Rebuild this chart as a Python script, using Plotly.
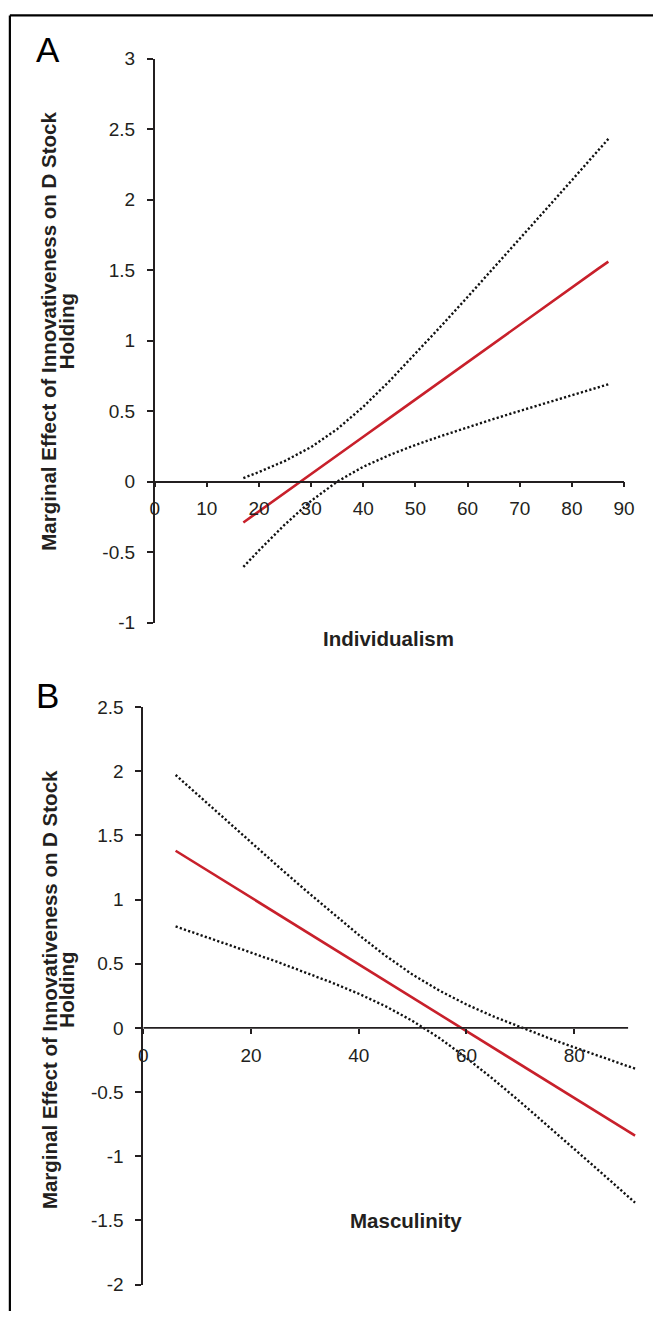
import plotly.graph_objects as go

W, H = 664, 1322

# ---------------- Data ----------------
# Panel A: Individualism
a_x = [17, 20, 25, 30, 35, 40, 45, 50, 55, 60, 65, 70, 75, 80, 85, 87]
a_effect = [-0.290, -0.210, -0.078, 0.054, 0.186, 0.318, 0.450, 0.583, 0.715, 0.847, 0.979, 1.111, 1.243, 1.375, 1.508, 1.560]
a_upper = [0.025, 0.068, 0.147, 0.245, 0.372, 0.531, 0.712, 0.906, 1.106, 1.309, 1.514, 1.721, 1.929, 2.137, 2.347, 2.430]
a_lower = [-0.605, -0.488, -0.303, -0.137, 0.000, 0.105, 0.188, 0.260, 0.324, 0.385, 0.444, 0.501, 0.557, 0.613, 0.669, 0.690]

# Panel B: Masculinity
b_x = [6, 10, 15, 20, 25, 30, 35, 40, 45, 50, 55, 60, 65, 70, 75, 80, 85, 91.3]
b_effect = [1.380, 1.276, 1.146, 1.016, 0.885, 0.755, 0.625, 0.495, 0.365, 0.235, 0.105, -0.026, -0.156, -0.286, -0.416, -0.546, -0.676, -0.840]
b_upper = [1.970, 1.819, 1.631, 1.444, 1.259, 1.076, 0.897, 0.724, 0.561, 0.415, 0.290, 0.182, 0.089, 0.005, -0.075, -0.151, -0.225, -0.318]
b_lower = [0.790, 0.733, 0.661, 0.587, 0.512, 0.434, 0.353, 0.266, 0.168, 0.054, -0.080, -0.234, -0.401, -0.577, -0.758, -0.941, -1.127, -1.362]

a_xticks = [0, 10, 20, 30, 40, 50, 60, 70, 80, 90]
a_yticks = [-1, -0.5, 0, 0.5, 1, 1.5, 2, 2.5, 3]
a_yticklabels = ["-1", "-0.5", "0", "0.5", "1", "1.5", "2", "2.5", "3"]
b_xticks = [0, 20, 40, 60, 80]
b_yticks = [-2, -1.5, -1, -0.5, 0, 0.5, 1, 1.5, 2, 2.5]
b_yticklabels = ["-2", "-1.5", "-1", "-0.5", "0", "0.5", "1", "1.5", "2", "2.5"]

y_title_line1 = "Marginal Effect of Innovativeness on D Stock"
y_title_line2 = "Holding"
a_xtitle = "Individualism"
b_xtitle = "Masculinity"

# ---------------- Styling ----------------
FONT = "Liberation Sans, Arial, Helvetica, sans-serif"
INK = "#231f20"
RED = "#c8202b"


def px_x(p):
    return p / W


def px_y(p):
    return 1 - p / H


fig = go.Figure()

dot_style = dict(color="#111111", width=2.4, dash="2.2px,2.2px")
red_style = dict(color=RED, width=2.6)

for xs, ys, style, xa, ya in [
    (a_x, a_upper, dot_style, "x", "y"),
    (a_x, a_lower, dot_style, "x", "y"),
    (a_x, a_effect, red_style, "x", "y"),
    (b_x, b_upper, dot_style, "x2", "y2"),
    (b_x, b_lower, dot_style, "x2", "y2"),
    (b_x, b_effect, red_style, "x2", "y2"),
]:
    fig.add_trace(go.Scatter(x=xs, y=ys, mode="lines", line=style,
                             xaxis=xa, yaxis=ya, showlegend=False, hoverinfo="skip"))

# Panel geometry (pixels)
a_x0, a_x1 = 153.4, 634.3
a_ytop, a_ybot = 49.3, 622.5
b_x0, b_x1 = 141.7, 647.3
b_ytop, b_ybot = 708.2, 1295.2

a_dom_y = [px_y(a_ybot), px_y(a_ytop)]
b_dom_y = [px_y(b_ybot), px_y(b_ytop)]
a_zero = a_dom_y[0] + (0 - (-1)) / 4 * (a_dom_y[1] - a_dom_y[0])
b_zero = b_dom_y[0] + (0 - (-2)) / 4.5 * (b_dom_y[1] - b_dom_y[0])

tickfont = dict(family=FONT, size=19, color=INK)
axis_common = dict(showgrid=False, zeroline=False, ticks="outside", tickcolor=INK,
                   linecolor=INK, linewidth=1.6, tickwidth=1.6, tickfont=tickfont)

fig.update_layout(
    width=W, height=H,
    margin=dict(l=0, r=0, t=0, b=0),
    paper_bgcolor="white", plot_bgcolor="white",
    xaxis=dict(domain=[px_x(a_x0), px_x(a_x1)], range=[0, 90], tickmode="array", tickvals=a_xticks,
               anchor="free", position=a_zero, showline=True, ticklen=5, ticklabelstandoff=5,
               **axis_common),
    yaxis=dict(domain=a_dom_y, range=[-1, 3], tickmode="array", tickvals=a_yticks, ticktext=a_yticklabels,
               anchor="x", showline=True, ticklen=6, ticklabelstandoff=8, **axis_common),
    xaxis2=dict(domain=[px_x(b_x0), px_x(b_x1)], range=[0, 91.6], tickmode="array", tickvals=b_xticks,
                anchor="free", position=b_zero, showline=False, ticklen=5, ticklabelstandoff=5,
                **axis_common),
    yaxis2=dict(domain=b_dom_y, range=[-2, 2.5], tickmode="array", tickvals=b_yticks, ticktext=b_yticklabels,
                anchor="x2", showline=True, ticklen=6, ticklabelstandoff=8, **axis_common),
)

# Horizontal axis line of panel B (ends at 90)
fig.add_shape(type="line", xref="x2", yref="y2", x0=0, x1=90, y0=0, y1=0,
              line=dict(color=INK, width=1.6), layer="above")

# Outer frame (top and left)
fig.add_shape(type="line", xref="paper", yref="paper", x0=px_x(5), x1=1, y0=px_y(5.5), y1=px_y(5.5),
              line=dict(color="black", width=2.2))
fig.add_shape(type="line", xref="paper", yref="paper", x0=px_x(5), x1=px_x(5), y0=px_y(5.5), y1=0,
              line=dict(color="black", width=2.2))

titlefont = dict(family=FONT, size=20.5, color=INK)
ann = [
    dict(text="A", x=px_x(44), y=px_y(40), font=dict(family=FONT, size=35, color="black")),
    dict(text="B", x=px_x(44), y=px_y(697), font=dict(family=FONT, size=35, color="black")),
    dict(text="<b>%s</b>" % a_xtitle, x=px_x(393), y=px_y(639), font=titlefont),
    dict(text="<b>%s</b>" % b_xtitle, x=px_x(411), y=px_y(1230), font=titlefont),
    dict(text="<b>%s</b>" % y_title_line1, x=px_x(45), y=px_y(326), font=titlefont, textangle=-90),
    dict(text="<b>%s</b>" % y_title_line2, x=px_x(63), y=px_y(326), font=titlefont, textangle=-90),
    dict(text="<b>%s</b>" % y_title_line1, x=px_x(45), y=px_y(995), font=titlefont, textangle=-90),
    dict(text="<b>%s</b>" % y_title_line2, x=px_x(63), y=px_y(995), font=titlefont, textangle=-90),
]
for a in ann:
    fig.add_annotation(xref="paper", yref="paper", xanchor="center", yanchor="middle",
                       showarrow=False, **a)

post = """
document.documentElement.style.margin='0px';
document.documentElement.style.padding='0px';
document.documentElement.style.overflow='hidden';
document.body.style.margin='0px';
document.body.style.padding='0px';
document.body.style.overflow='hidden';
var gd = document.getElementById('{plot_id}');
gd.style.position='fixed'; gd.style.left='0px'; gd.style.top='0px';
"""

fig.write_html("out.html", config={"displayModeBar": False, "responsive": False}, post_script=post)
